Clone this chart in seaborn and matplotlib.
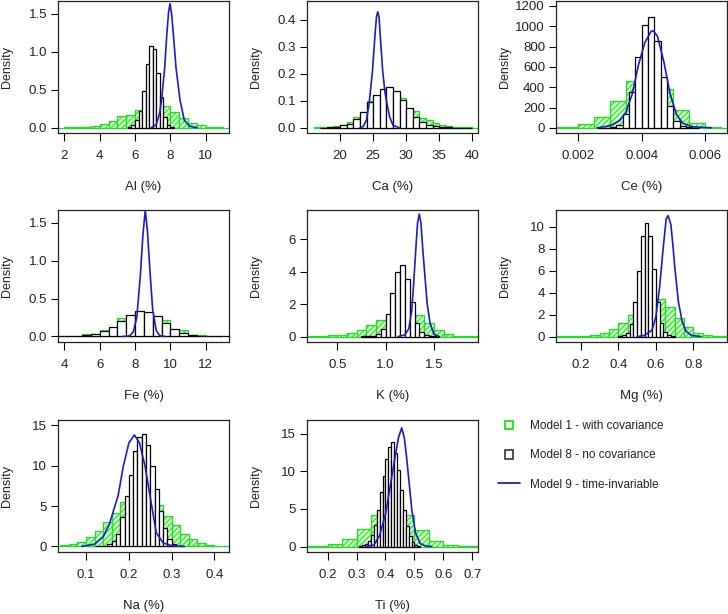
import matplotlib
import matplotlib.pyplot as plt
import numpy as np
import pandas as pd
import seaborn as sns
from matplotlib.legend_handler import HandlerPatch
from matplotlib.lines import Line2D
from matplotlib.patches import Patch, Rectangle

matplotlib.use("Agg")
sns.set_theme(style="ticks")
plt.rcParams["font.family"] = ["Liberation Sans", "DejaVu Sans"]

GREEN_FILL = "#c9f7c2"
GREEN_EDGE = "#1fe01f"
BLUE = "#1c1cc8"
TEXT = "#222222"
plt.rcParams["hatch.color"] = GREEN_EDGE
plt.rcParams["hatch.linewidth"] = 0.7

ELEMENTS = ["Al", "Ca", "Ce", "Fe", "K", "Mg", "Na", "Ti"]
LEGEND_LABELS = [
    "Model 1 - with covariance",
    "Model 8 - no covariance",
    "Model 9 - time-invariable",
]

# model 1 (green) histograms: (first edge, bin width), densities
AL_M1_BINS = (1.5, 0.5)
AL_M1 = [0.003, 0.005, 0.01, 0.015, 0.025, 0.045, 0.09, 0.15, 0.17, 0.235,
         0.27, 0.28, 0.29, 0.21, 0.13, 0.065, 0.03, 0.015, 0.008, 0.003]
CA_M1_BINS = (16, 1)
CA_M1 = [0.002, 0.003, 0.005, 0.007, 0.012, 0.022, 0.042, 0.06, 0.1, 0.11,
         0.125, 0.13, 0.12, 0.11, 0.07, 0.064, 0.035, 0.028, 0.02, 0.011,
         0.008, 0.005, 0.003, 0.002, 0.001]
CE_M1_BINS = (0.001, 0.0005)
CE_M1 = [5, 13, 40, 110, 268, 458, 480, 386, 177, 52, 13, 3]
FE_M1_BINS = (3, 1)
FE_M1 = [0.002, 0.008, 0.03, 0.092, 0.245, 0.29, 0.223, 0.092, 0.017, 0.003]
K_M1_BINS = (0.1, 0.1)
K_M1 = [0.005, 0.01, 0.04, 0.08, 0.12, 0.22, 0.43, 0.68, 1.04, 1.3, 1.4,
        1.45, 1.35, 0.84, 0.43, 0.16, 0.06, 0.02, 0.005]
MG_M1_BINS = (0.05, 0.05)
MG_M1 = [0.01, 0.02, 0.05, 0.08, 0.18, 0.33, 0.7, 1.2, 1.96, 2.9, 3.3, 3.4,
         2.7, 1.7, 0.85, 0.33, 0.1, 0.03, 0.01]
NA_M1_BINS = (0.0, 0.02)
NA_M1 = [0.01, 0.05, 0.16, 0.33, 0.58, 1.15, 1.9, 3.0, 4.2, 5.5, 6.0, 6.3,
         6.1, 5.1, 3.8, 2.7, 1.56, 0.95, 0.37, 0.16, 0.08, 0.03, 0.01]
TI_M1_BINS = (0.1, 0.05)
TI_M1 = [0.05, 0.13, 0.35, 1.0, 2.37, 4.17, 4.6, 4.17, 2.2, 0.7, 0.18, 0.05,
         0.02]

# model 8 (black) histograms
AL_M8_BINS = (5.6, 0.2)
AL_M8 = [0.01, 0.04, 0.1, 0.22, 0.48, 0.84, 1.08, 1.03, 0.72, 0.4, 0.14,
         0.04, 0.01]
CA_M8_BINS = (17, 1)
CA_M8 = [0.001, 0.002, 0.004, 0.009, 0.015, 0.033, 0.059, 0.095, 0.122,
         0.144, 0.15, 0.138, 0.103, 0.074, 0.042, 0.021, 0.012, 0.006, 0.003,
         0.002, 0.001, 0.0, 0.0]
CE_M8_BINS = (0.0026, 0.0002)
CE_M8 = [1, 3, 7, 30, 137, 350, 700, 1014, 1092, 857, 497, 219, 72, 20, 5, 1]
FE_M8_BINS = (3.5, 0.5)
FE_M8 = [0.0, 0.0, 0.004, 0.015, 0.035, 0.07, 0.127, 0.2, 0.284, 0.337,
         0.32, 0.267, 0.175, 0.1, 0.048, 0.02, 0.008, 0.002, 0.0, 0.0]
K_M8_BINS = (0.75, 0.05)
K_M8 = [0.01, 0.02, 0.05, 0.16, 0.47, 1.39, 2.68, 3.97, 4.4, 3.56, 2.1, 0.84,
        0.29, 0.12, 0.04, 0.01]
MG_M8_BINS = (0.40, 0.02)
MG_M8 = [0.02, 0.1, 0.33, 1.1, 3.1, 6.0, 9.1, 10.3, 9.1, 6.1, 3.1, 1.2, 0.45,
         0.15, 0.05]
NA_M8_BINS = (0.12, 0.01)
NA_M8 = [0.01, 0.04, 0.1, 0.25, 0.65, 1.5, 3.7, 6.2, 8.9, 11.8, 13.6, 13.9,
         12.5, 10.0, 7.1, 4.4, 2.3, 0.95, 0.33, 0.12, 0.04]
TI_M8_BINS = (0.31, 0.01)
TI_M8 = [0.06, 0.18, 0.35, 0.7, 1.6, 2.9, 4.9, 7.2, 9.4, 11.6, 13.2, 13.86,
         12.5, 10.2, 7.5, 4.9, 2.7, 1.36, 0.57, 0.22, 0.08]

# model 9 (blue) density curves
AL_M9_X = [6.9, 7.2, 7.4, 7.5, 7.68, 7.8, 7.9, 7.98, 8.07, 8.17, 8.32, 8.55,
           8.79, 9.1, 9.5]
AL_M9_Y = [0.0, 0.04, 0.2, 0.36, 0.79, 1.23, 1.52, 1.63, 1.5, 1.23, 0.79,
           0.36, 0.1, 0.02, 0.0]
CA_M9_X = [23.0, 23.5, 24.0, 24.4, 24.9, 25.3, 25.5, 25.7, 25.9, 26.05,
           26.45, 26.8, 27.1, 27.5, 28.0, 29.0]
CA_M9_Y = [0.0, 0.005, 0.03, 0.09, 0.21, 0.35, 0.41, 0.43, 0.41, 0.35, 0.21,
           0.13, 0.09, 0.04, 0.01, 0.0]
CE_M9_X = [0.0026, 0.0030, 0.0033, 0.0035, 0.0037, 0.0039, 0.0041, 0.0043,
           0.00437, 0.0045, 0.0047, 0.0049, 0.0051, 0.0053, 0.0056, 0.0062]
CE_M9_Y = [0, 20, 70, 150, 330, 620, 840, 950, 955, 900, 650, 330, 130, 45,
           10, 0]
FE_M9_X = [7.3, 7.7, 7.9, 8.1, 8.3, 8.45, 8.58, 8.7, 8.85, 9.0, 9.2, 9.4, 9.7]
FE_M9_Y = [0.0, 0.01, 0.06, 0.25, 0.8, 1.35, 1.66, 1.4, 0.85, 0.35, 0.08,
           0.01, 0.0]
K_M9_X = [1.13, 1.2, 1.24, 1.27, 1.29, 1.31, 1.33, 1.348, 1.365, 1.385,
          1.405, 1.43, 1.46, 1.5, 1.55]
K_M9_Y = [0.0, 0.1, 0.5, 1.6, 3.3, 5.2, 7.0, 7.55, 7.0, 5.3, 3.8, 2.0, 0.8,
          0.15, 0.0]
MG_M9_X = [0.5, 0.54, 0.58, 0.6, 0.62, 0.64, 0.655, 0.665, 0.68, 0.69, 0.7,
           0.72, 0.74, 0.76, 0.79, 0.84]
MG_M9_Y = [0.0, 0.1, 0.6, 1.8, 4.5, 8.2, 10.7, 11.0, 10.2, 8.5, 6.5, 3.2, 1.4,
           0.5, 0.1, 0.0]
NA_M9_X = [0.09, 0.12, 0.14, 0.155, 0.165, 0.175, 0.187, 0.2, 0.213, 0.225,
           0.238, 0.251, 0.264, 0.28, 0.3, 0.33]
NA_M9_Y = [0.0, 0.3, 1.2, 2.8, 4.6, 6.3, 9.9, 12.8, 13.8, 12.8, 9.9, 5.8, 1.7,
           0.45, 0.1, 0.0]
TI_M9_X = [0.33, 0.36, 0.38, 0.4, 0.418, 0.433, 0.445, 0.456, 0.465, 0.473,
           0.482, 0.491, 0.504, 0.52, 0.54, 0.56]
TI_M9_Y = [0.0, 0.2, 1.5, 4.3, 8.4, 11.9, 14.5, 15.8, 14.5, 11.9, 8.4, 4.9,
           1.8, 0.4, 0.05, 0.0]

# axis ticks and labels
AL_XTICKS, AL_YTICKS = [2, 4, 6, 8, 10], ["0.0", "0.5", "1.0", "1.5"]
CA_XTICKS, CA_YTICKS = [20, 25, 30, 35, 40], ["0.0", "0.1", "0.2", "0.3", "0.4"]
CE_XTICKS = ["0.002", "0.004", "0.006"]
CE_YTICKS = ["0", "200", "400", "600", "800", "1000", "1200"]
FE_XTICKS, FE_YTICKS = [4, 6, 8, 10, 12], ["0.0", "0.5", "1.0", "1.5"]
K_XTICKS, K_YTICKS = ["0.5", "1.0", "1.5"], ["0", "2", "4", "6"]
MG_XTICKS = ["0.2", "0.4", "0.6", "0.8"]
MG_YTICKS = ["0", "2", "4", "6", "8", "10"]
NA_XTICKS, NA_YTICKS = ["0.1", "0.2", "0.3", "0.4"], ["0", "5", "10", "15"]
TI_XTICKS = ["0.2", "0.3", "0.4", "0.5", "0.6", "0.7"]
TI_YTICKS = ["0", "5", "10", "15"]

panels = {
    "Al": (AL_M1_BINS, AL_M1, AL_M8_BINS, AL_M8, AL_M9_X, AL_M9_Y,
           AL_XTICKS, AL_YTICKS, (1.64, 11.32), (-0.062, 1.666)),
    "Ca": (CA_M1_BINS, CA_M1, CA_M8_BINS, CA_M8, CA_M9_X, CA_M9_Y,
           CA_XTICKS, CA_YTICKS, (15.0, 40.86), (-0.017, 0.470)),
    "Ce": (CE_M1_BINS, CE_M1, CE_M8_BINS, CE_M8, CE_M9_X, CE_M9_Y,
           CE_XTICKS, CE_YTICKS, (0.0013, 0.00669), (-46, 1249)),
    "Fe": (FE_M1_BINS, FE_M1, FE_M8_BINS, FE_M8, FE_M9_X, FE_M9_Y,
           FE_XTICKS, FE_YTICKS, (3.64, 13.32), (-0.066, 1.667)),
    "K": (K_M1_BINS, K_M1, K_M8_BINS, K_M8, K_M9_X, K_M9_Y,
          K_XTICKS, K_YTICKS, (0.187, 1.955), (-0.307, 7.80)),
    "Mg": (MG_M1_BINS, MG_M1, MG_M8_BINS, MG_M8, MG_M9_X, MG_M9_Y,
           MG_XTICKS, MG_YTICKS, (0.0665, 0.98), (-0.45, 11.51)),
    "Na": (NA_M1_BINS, NA_M1, NA_M8_BINS, NA_M8, NA_M9_X, NA_M9_Y,
           NA_XTICKS, NA_YTICKS, (0.0345, 0.434), (-0.62, 15.65)),
    "Ti": (TI_M1_BINS, TI_M1, TI_M8_BINS, TI_M8, TI_M9_X, TI_M9_Y,
           TI_XTICKS, TI_YTICKS, (0.1285, 0.72), (-0.66, 16.84)),
}

W, H = 728, 614
col_left = [58, 307, 556]
row_top = [1, 210, 420]
ax_w, ax_h = 171, 131.5


def draw_hist(ax, bins, heights, face, edge, hatch=None):
    start, width = bins
    edges = start + width * np.arange(len(heights) + 1)
    frame = pd.DataFrame({"value": edges[:-1] + width / 2,
                          "density": np.asarray(heights, dtype=float)})
    sns.histplot(data=frame, x="value", weights="density",
                 bins=list(edges), stat="count", ax=ax,
                 facecolor=face, edgecolor=edge, linewidth=0.9, hatch=hatch,
                 alpha=1)


fig = plt.figure(figsize=(W / 100, H / 100), dpi=100)

for i, name in enumerate(ELEMENTS):
    (m1_bins, m1, m8_bins, m8, m9_x, m9_y,
     xticks, yticks, xlim, ylim) = panels[name]
    r, c = divmod(i, 3)
    ax = fig.add_axes([col_left[c] / W, 1 - (row_top[r] + ax_h) / H,
                       ax_w / W, ax_h / H])
    draw_hist(ax, m1_bins, m1, GREEN_FILL, GREEN_EDGE, hatch="//////")
    draw_hist(ax, m8_bins, m8, "white", "black")
    sns.lineplot(x=m9_x, y=m9_y, ax=ax, color=BLUE, linewidth=1.2)

    ax.set_xticks([float(t) for t in xticks])
    ax.set_xticklabels([str(t) for t in xticks])
    ax.set_yticks([float(t) for t in yticks])
    ax.set_yticklabels(yticks)
    ax.set_xlim(xlim)
    ax.set_ylim(ylim)
    ax.tick_params(axis="both", length=5.4, width=0.8, color="black",
                   labelsize=9.5, labelcolor=TEXT)
    ax.tick_params(axis="x", pad=7.5)
    ax.tick_params(axis="y", pad=2.5)
    for spine in ax.spines.values():
        spine.set_color(TEXT)
        spine.set_linewidth(0.9)
        spine.set_visible(True)
    ax.set_xlabel(f"{name} (%)", fontsize=9.5, color=TEXT)
    ax.set_ylabel("Density", fontsize=9, color=TEXT)
    ax.xaxis.set_label_coords(0.5, -0.372)
    ax.yaxis.set_label_coords(-0.262, 0.5)


def square_patch(legend, orig_handle, xdescent, ydescent, width, height,
                 fontsize):
    side = min(width, height)
    return Rectangle((-xdescent + (width - side) / 2,
                      -ydescent + (height - side) / 2), side, side)


handles = [
    Patch(facecolor="#f0fff0", edgecolor=GREEN_EDGE, linewidth=1.3),
    Patch(facecolor="white", edgecolor=TEXT, linewidth=1.1),
    Line2D([], [], color=BLUE, linewidth=1.3),
]
fig.legend(handles, LEGEND_LABELS, loc="center left",
           bbox_to_anchor=(498 / W, 1 - 455.5 / H), frameon=False,
           fontsize=8.5, borderpad=0, borderaxespad=0, handlelength=1.9,
           handleheight=0.7, handletextpad=0.8, labelspacing=1.45,
           labelcolor=TEXT,
           handler_map={Patch: HandlerPatch(patch_func=square_patch)})

fig.savefig("out.png", dpi=100)
